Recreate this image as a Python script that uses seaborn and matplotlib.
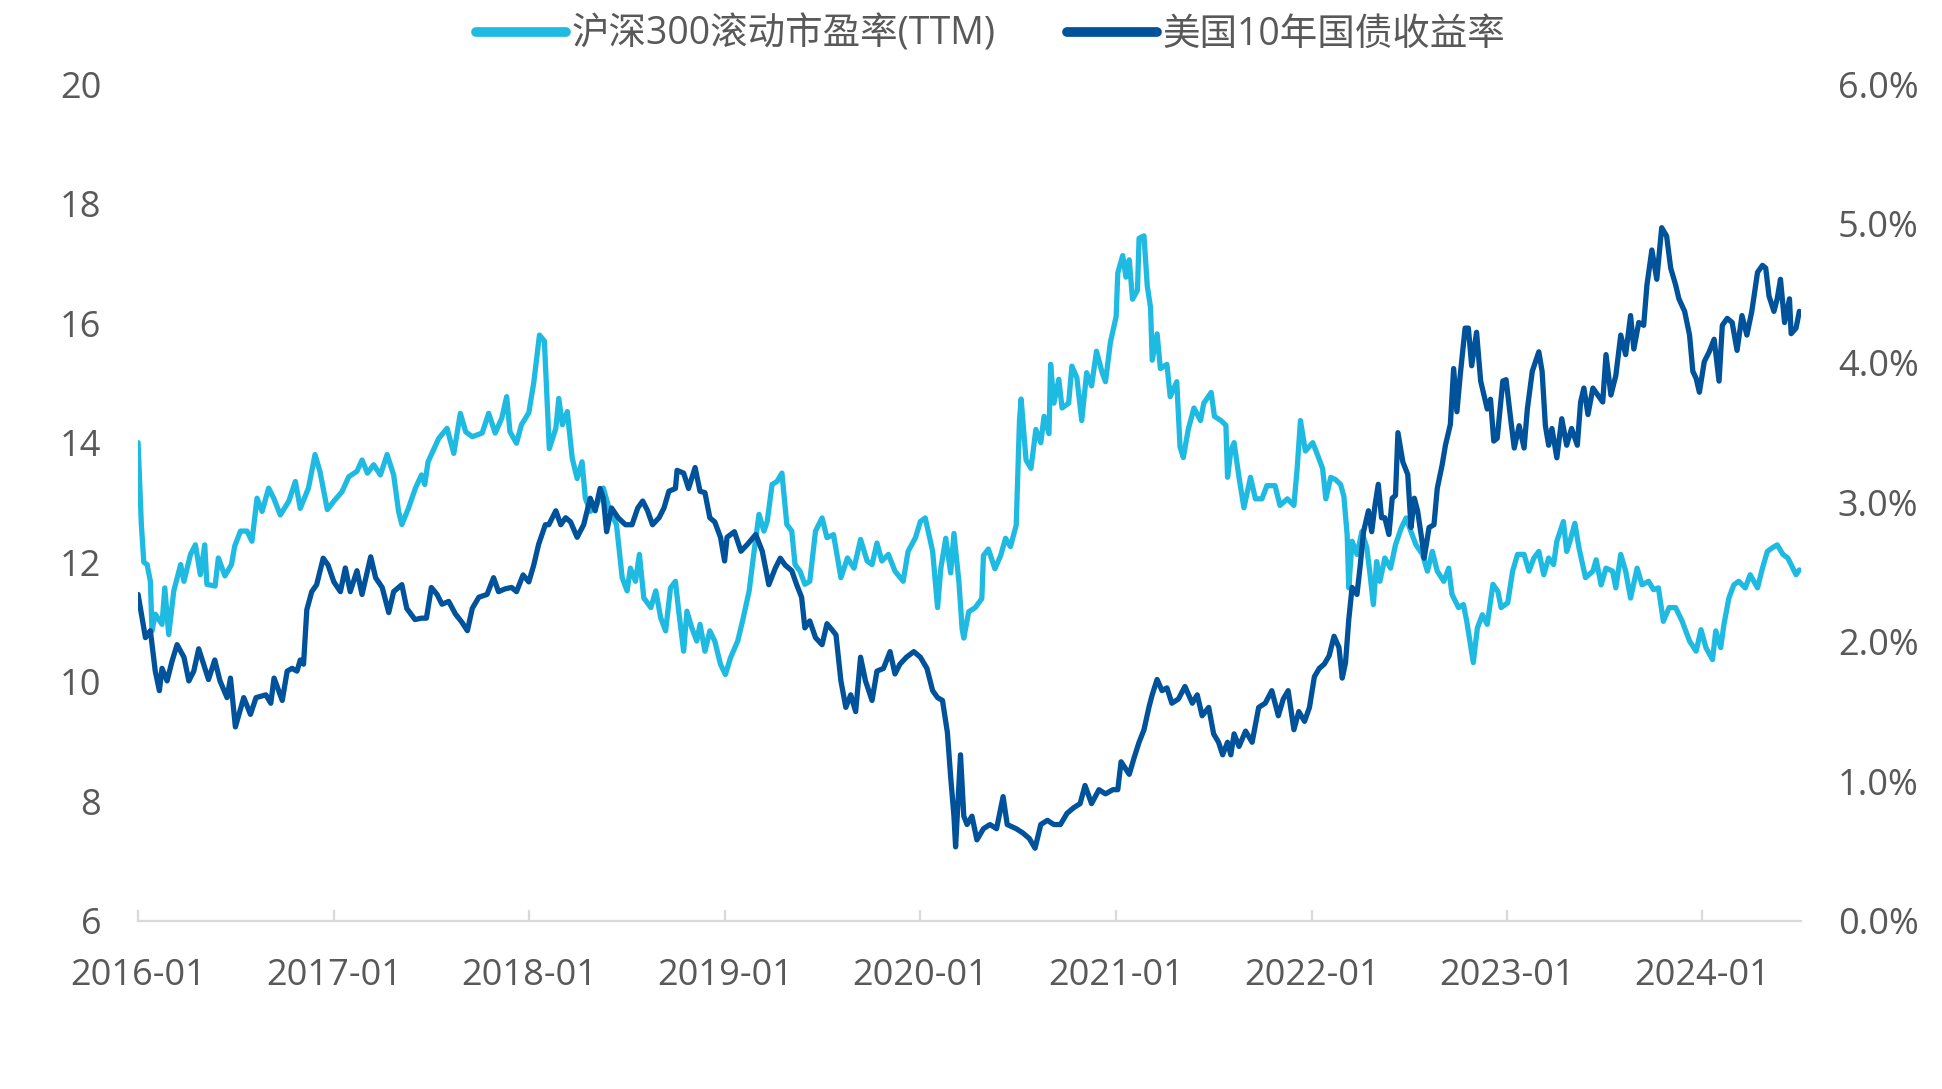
import matplotlib
matplotlib.use("Agg")
import matplotlib.pyplot as plt
import matplotlib.dates as mdates
from matplotlib.ticker import FuncFormatter
import numpy as np
import pandas as pd
import seaborn as sns

# data; x is the month offset from 2016-01 as read on the axis
START = pd.Timestamp("2016-01-01")
END = pd.Timestamp("2024-07-03")
MONTH_DAYS = 30.6  # the reference axis runs on trading days, one read month ~ 30.6 calendar days

PE_MONTHS = [
    0, 0.2, 0.35, 0.55, 0.75, 0.85, 1.05, 1.46, 1.63, 1.87, 2.18, 2.6, 2.8, 3.2, 3.5, 3.8,
    4.07, 4.2, 4.7, 4.9, 5.3, 5.7, 5.9, 6.25, 6.65, 6.95, 7.26, 7.57, 7.97, 8.28, 8.68, 9.2,
    9.6, 9.9, 10.4, 10.8, 11.1, 11.55, 11.95, 12.45, 12.86, 13.36, 13.67, 14.0, 14.38, 14.79,
    15.2, 15.6, 15.9, 16.1, 16.5, 16.93, 17.3, 17.5, 17.7, 18.35, 18.86, 19.27, 19.67, 20.0,
    20.4, 21.0, 21.4, 21.8, 22.2, 22.5, 22.7, 23.1, 23.4, 23.85, 24.15, 24.5, 24.8, 25.1,
    25.5, 25.68, 25.9, 26.2, 26.5, 26.8, 27.1, 27.3, 27.6, 28.0, 28.4, 28.8, 29.2, 29.55,
    29.85, 30.05, 30.36, 30.6, 30.87, 31.3, 31.6, 31.9, 32.2, 32.5, 32.8, 33.0, 33.3, 33.5,
    33.8, 34.1, 34.3, 34.6, 34.9, 35.2, 35.55, 35.85, 36.16, 36.6, 36.9, 37.3, 37.6, 37.9,
    38.2, 38.4, 38.7, 39.0, 39.3, 39.6, 39.9, 40.1, 40.4, 40.7, 41.0, 41.35, 41.75, 42.05,
    42.45, 42.9, 43.3, 43.7, 44.1, 44.5, 44.8, 45.1, 45.4, 45.8, 46.2, 46.7, 47.0, 47.45,
    47.75, 48.05, 48.5, 48.8, 49.0, 49.3, 49.6, 49.8, 50.1, 50.3, 50.4, 50.7, 51.1, 51.5,
    51.6, 51.9, 52.3, 52.65, 52.95, 53.25, 53.6, 53.7, 53.8, 53.9, 54.2, 54.5, 54.8, 55.1,
    55.3, 55.6, 55.7, 55.9, 56.2, 56.4, 56.8, 57.0, 57.3, 57.6, 57.9, 58.2, 58.5, 58.85,
    59.05, 59.35, 59.7, 59.8, 60.1, 60.3, 60.5, 60.7, 61.0, 61.1, 61.4, 61.6, 61.8, 61.9,
    62.2, 62.4, 62.8, 63.0, 63.4, 63.6, 63.8, 64.1, 64.45, 64.85, 65.05, 65.5, 65.7, 66.1,
    66.4, 66.5, 66.7, 66.9, 67.2, 67.5, 67.9, 68.2, 68.6, 68.9, 69.4, 69.7, 70.15, 70.55,
    70.75, 70.95, 71.25, 71.7, 72.0, 72.3, 72.5, 72.8, 73.1, 73.4, 73.6, 73.8, 73.9, 74.1,
    74.4, 74.7, 75.0, 75.2, 75.4, 75.6, 75.8, 76.1, 76.45, 76.75, 77.1, 77.4, 77.7, 78.0,
    78.4, 78.7, 79.0, 79.3, 79.7, 80.0, 80.2, 80.6, 80.9, 81.1, 81.5, 81.75, 82.05, 82.35,
    82.7, 83.0, 83.2, 83.6, 83.9, 84.2, 84.6, 84.9, 85.2, 85.5, 85.8, 86.1, 86.4, 86.6,
    87.0, 87.2, 87.4, 87.7, 87.95, 88.35, 88.8, 89.0, 89.3, 89.6, 90.0, 90.2, 90.5, 90.8,
    91.1, 91.5, 91.8, 92.2, 92.5, 92.8, 93.1, 93.45, 93.85, 94.25, 94.7, 95.1, 95.4, 95.7,
    96.1, 96.3, 96.6, 96.8, 97.1, 97.4, 97.7, 98.1, 98.4, 98.85, 99.15, 99.45, 99.75,
    100.05, 100.4, 100.7, 101.0, 101.2, 101.4,
]
PE_VALUES = [
    14.0, 12.63, 12.0, 11.96, 11.68, 10.85, 11.13, 10.96, 11.57, 10.79, 11.52, 11.96, 11.68,
    12.13, 12.29, 11.79, 12.29, 11.63, 11.6, 12.07, 11.77, 11.96, 12.27, 12.52, 12.52, 12.35,
    13.07, 12.85, 13.24, 13.07, 12.79, 13.02, 13.35, 12.9, 13.24, 13.8, 13.52, 12.88, 13.02,
    13.18, 13.43, 13.52, 13.71, 13.49, 13.63, 13.46, 13.8, 13.46, 12.85, 12.63, 12.9, 13.24,
    13.46, 13.3, 13.68, 14.07, 14.24, 13.82, 14.49, 14.18, 14.1, 14.16, 14.49, 14.16, 14.41,
    14.77, 14.18, 13.99, 14.3, 14.5, 15.0, 15.8, 15.7, 13.9, 14.24, 14.74, 14.3, 14.52,
    13.74, 13.4, 13.68, 13.07, 12.85, 12.96, 13.24, 12.85, 12.63, 11.74, 11.52, 11.9, 11.68,
    12.13, 11.4, 11.24, 11.52, 11.07, 10.85, 11.57, 11.68, 11.18, 10.51, 11.18, 10.9, 10.68,
    10.96, 10.51, 10.85, 10.68, 10.29, 10.12, 10.4, 10.68, 11.02, 11.52, 12.18, 12.8, 12.52,
    12.68, 13.3, 13.35, 13.49, 12.63, 12.52, 11.96, 11.85, 11.63, 11.68, 12.52, 12.74, 12.41,
    12.46, 11.74, 12.07, 11.9, 12.38, 12.02, 11.96, 12.32, 12.02, 12.13, 11.85, 11.68, 12.18,
    12.41, 12.68, 12.74, 12.18, 11.24, 11.9, 12.4, 11.82, 12.48, 11.68, 10.88, 10.73, 11.17,
    11.24, 11.39, 12.11, 12.22, 11.89, 12.11, 12.4, 12.26, 12.62, 13.5, 14.37, 14.73, 13.71,
    13.57, 14.22, 14.0, 14.44, 14.15, 15.31, 14.66, 15.06, 14.58, 14.66, 15.28, 15.09, 14.37,
    15.17, 14.95, 15.53, 15.17, 15.02, 15.68, 16.11, 16.84, 17.13, 16.77, 17.06, 16.4, 16.55,
    17.42, 17.46, 16.62, 16.26, 15.38, 15.82, 15.24, 15.31, 14.77, 15.02, 13.93, 13.75,
    14.22, 14.58, 14.37, 14.66, 14.84, 14.44, 14.37, 14.29, 13.42, 13.86, 14.0, 13.42, 12.91,
    13.42, 13.06, 13.06, 13.28, 13.28, 12.95, 13.06, 12.95, 13.57, 14.37, 13.86, 14.0, 13.79,
    13.57, 13.06, 13.42, 13.38, 13.3, 13.1, 12.46, 11.57, 12.35, 12.13, 12.51, 12.24, 11.79,
    11.29, 12.01, 11.68, 12.07, 11.9, 12.29, 12.57, 12.74, 12.51, 12.29, 12.13, 11.85, 12.18,
    11.85, 11.68, 11.9, 11.46, 11.24, 11.29, 11.01, 10.32, 10.9, 11.12, 10.96, 11.63, 11.51,
    11.24, 11.32, 11.85, 12.13, 12.13, 11.85, 12.07, 12.18, 11.79, 12.07, 11.96, 12.35, 12.68,
    12.18, 12.35, 12.65, 12.24, 11.74, 11.85, 12.04, 11.62, 11.9, 11.85, 11.57, 12.13, 11.85,
    11.4, 11.9, 11.62, 11.68, 11.54, 11.57, 11.01, 11.24, 11.24, 11.01, 10.68, 10.51, 10.87,
    10.57, 10.37, 10.85, 10.57, 10.96, 11.4, 11.62, 11.68, 11.57, 11.79, 11.57, 11.9, 12.18,
    12.24, 12.29, 12.13, 12.07, 11.9, 11.79, 11.87,
]

UST_MONTHS = [
    0, 0.25, 0.45, 0.75, 1.05, 1.3, 1.46, 1.77, 2.07, 2.38, 2.8, 3.1, 3.4, 3.7, 4.0, 4.3,
    4.68, 5.0, 5.43, 5.64, 5.94, 6.45, 6.86, 7.2, 7.8, 8.1, 8.3, 8.8, 9.1, 9.4, 9.7, 9.9,
    10.1, 10.3, 10.6, 10.9, 11.3, 11.6, 11.95, 12.35, 12.65, 12.95, 13.36, 13.67, 14.2, 14.5,
    14.9, 15.3, 15.6, 16.1, 16.4, 16.9, 17.3, 17.6, 17.9, 18.25, 18.55, 18.96, 19.37, 19.77,
    20.1, 20.4, 20.8, 21.3, 21.7, 22.0, 22.4, 22.8, 23.1, 23.5, 23.85, 24.15, 24.45, 24.86,
    25.07, 25.5, 25.8, 26.1, 26.4, 26.8, 27.2, 27.6, 27.9, 28.2, 28.4, 28.6, 28.9, 29.3,
    29.75, 30.15, 30.5, 30.8, 31.1, 31.4, 31.8, 32.1, 32.4, 32.8, 32.9, 33.3, 33.6, 34.0,
    34.3, 34.6, 34.9, 35.2, 35.55, 35.8, 35.95, 36.4, 36.8, 37.2, 37.7, 38.1, 38.5, 38.9,
    39.2, 39.5, 39.9, 40.2, 40.5, 40.7, 41.0, 41.35, 41.75, 42.05, 42.4, 42.6, 42.9, 43.2,
    43.5, 43.8, 44.1, 44.4, 44.8, 45.1, 45.5, 45.9, 46.2, 46.5, 46.9, 47.35, 47.75, 48.15,
    48.5, 48.8, 49.1, 49.4, 49.6, 49.8, 49.9, 50.1, 50.2, 50.4, 50.6, 50.9, 51.2, 51.6, 52.0,
    52.4, 52.8, 53.05, 53.6, 54.0, 54.4, 54.75, 55.1, 55.5, 55.9, 56.3, 56.7, 57.1, 57.5,
    57.8, 58.2, 58.65, 59.05, 59.5, 59.8, 60.0, 60.5, 60.8, 61.1, 61.4, 61.7, 61.9, 62.2,
    62.5, 62.8, 63.1, 63.5, 63.9, 64.35, 64.65, 64.95, 65.35, 65.65, 65.95, 66.2, 66.5, 66.7,
    66.9, 67.2, 67.6, 68.0, 68.4, 68.8, 69.2, 69.6, 69.9, 70.2, 70.55, 70.85, 71.2, 71.5,
    71.8, 72.1, 72.4, 72.7, 73.0, 73.3, 73.5, 73.7, 73.9, 74.1, 74.4, 74.6, 74.8, 75.1, 75.3,
    75.5, 75.7, 75.9, 76.1, 76.35, 76.55, 76.75, 76.9, 77.2, 77.5, 77.7, 77.9, 78.1, 78.4,
    78.5, 78.8, 79.1, 79.3, 79.6, 79.8, 80.1, 80.3, 80.5, 80.7, 81.0, 81.2, 81.4, 81.7,
    81.95, 82.15, 82.35, 82.55, 82.75, 82.96, 83.3, 83.5, 83.8, 84.0, 84.3, 84.6, 84.8,
    85.1, 85.5, 85.7, 85.9, 86.1, 86.3, 86.6, 86.9, 87.2, 87.5, 87.85, 88.05, 88.25, 88.5,
    88.8, 89.1, 89.4, 89.6, 89.9, 90.2, 90.5, 90.8, 91.1, 91.3, 91.6, 91.9, 92.1, 92.4,
    92.7, 93.0, 93.3, 93.55, 93.85, 94.05, 94.4, 94.7, 94.9, 95.1, 95.3, 95.6, 95.9, 96.2,
    96.5, 96.7, 97.0, 97.3, 97.6, 97.9, 98.2, 98.5, 98.85, 99.15, 99.35, 99.55, 99.85,
    100.05, 100.25, 100.5, 100.8, 100.9, 101.2, 101.4,
]
UST_VALUES = [
    2.34, 2.17, 2.03, 2.08, 1.79, 1.65, 1.81, 1.72, 1.86, 1.98, 1.89, 1.72, 1.79, 1.95, 1.84,
    1.73, 1.87, 1.72, 1.6, 1.74, 1.39, 1.6, 1.48, 1.6, 1.62, 1.56, 1.74, 1.58, 1.79, 1.81,
    1.79, 1.87, 1.84, 2.23, 2.36, 2.41, 2.6, 2.55, 2.43, 2.36, 2.53, 2.36, 2.51, 2.34, 2.61,
    2.46, 2.39, 2.21, 2.36, 2.41, 2.24, 2.16, 2.17, 2.17, 2.39, 2.34, 2.27, 2.29, 2.2, 2.14,
    2.08, 2.24, 2.32, 2.34, 2.46, 2.36, 2.38, 2.39, 2.36, 2.48, 2.43, 2.55, 2.7, 2.84, 2.84,
    2.94, 2.84, 2.89, 2.86, 2.75, 2.84, 3.03, 2.94, 3.1, 3.03, 2.79, 2.96, 2.89, 2.84, 2.84,
    2.96, 3.01, 2.94, 2.84, 2.89, 2.96, 3.08, 3.1, 3.23, 3.21, 3.1, 3.25, 3.08, 3.07, 2.89,
    2.86, 2.75, 2.58, 2.75, 2.79, 2.65, 2.7, 2.77, 2.65, 2.41, 2.53, 2.6, 2.55, 2.51, 2.41,
    2.32, 2.1, 2.15, 2.03, 1.98, 2.13, 2.08, 2.05, 1.72, 1.53, 1.62, 1.5, 1.89, 1.72, 1.58,
    1.79, 1.81, 1.93, 1.77, 1.84, 1.89, 1.93, 1.89, 1.81, 1.65, 1.6, 1.58, 1.35, 1.03, 0.75,
    0.53, 0.97, 1.19, 0.75, 0.69, 0.75, 0.58, 0.66, 0.69, 0.66, 0.89, 0.69, 0.66, 0.63, 0.59,
    0.52, 0.69, 0.72, 0.69, 0.69, 0.77, 0.81, 0.84, 0.97, 0.84, 0.94, 0.91, 0.94, 0.94, 1.14,
    1.05, 1.17, 1.28, 1.37, 1.53, 1.62, 1.73, 1.65, 1.67, 1.56, 1.59, 1.68, 1.56, 1.62, 1.47,
    1.53, 1.34, 1.28, 1.19, 1.28, 1.19, 1.34, 1.25, 1.36, 1.28, 1.53, 1.56, 1.65, 1.47, 1.59,
    1.65, 1.37, 1.5, 1.43, 1.53, 1.75, 1.81, 1.84, 1.9, 2.04, 1.96, 1.74, 1.85, 2.16, 2.39,
    2.34, 2.55, 2.79, 2.94, 2.79, 2.98, 3.13, 2.89, 2.89, 2.77, 3.03, 3.05, 3.5, 3.29, 3.2,
    2.82, 3.03, 2.94, 2.7, 2.6, 2.82, 2.84, 3.1, 3.27, 3.41, 3.56, 3.96, 3.65, 3.91, 4.25,
    4.25, 3.98, 4.22, 3.87, 3.77, 3.67, 3.74, 3.44, 3.46, 3.87, 3.88, 3.58, 3.39, 3.55, 3.39,
    3.67, 3.94, 4.08, 3.94, 3.55, 3.41, 3.53, 3.32, 3.6, 3.41, 3.53, 3.41, 3.72, 3.82, 3.63,
    3.82, 3.77, 3.72, 4.06, 3.77, 3.91, 4.2, 4.06, 4.34, 4.1, 4.29, 4.27, 4.56, 4.81, 4.6,
    4.97, 4.91, 4.68, 4.56, 4.46, 4.37, 4.2, 3.94, 3.89, 3.79, 4.01, 4.08, 4.17, 3.87, 4.27,
    4.32, 4.29, 4.09, 4.34, 4.2, 4.37, 4.65, 4.7, 4.68, 4.48, 4.37, 4.46, 4.6, 4.29, 4.46,
    4.21, 4.25, 4.37,
]

PE_LABEL = "沪深300滚动市盈率(TTM)"
UST_LABEL = "美国10年国债收益率"
PE_COLOR = "#1FBAE1"
UST_COLOR = "#00529A"
TEXT_COLOR = "#595959"
AXIS_COLOR = "#D9D9D9"


def to_dates(months):
    return START + pd.to_timedelta(np.asarray(months) * MONTH_DAYS, unit="D")


def main() -> None:
    sns.set_theme(style="white")
    plt.rcParams["font.family"] = ["Open Sans", "Noto Sans CJK SC", "DejaVu Sans"]

    pe = pd.DataFrame({"date": to_dates(PE_MONTHS), "value": PE_VALUES})
    ust = pd.DataFrame({"date": to_dates(UST_MONTHS), "value": UST_VALUES})

    fig = plt.figure(figsize=(19.42, 10.89), dpi=100)
    ax = fig.add_axes([0.0711, 0.1545, 0.8563, 0.7683])
    ax2 = ax.twinx()

    sns.lineplot(data=pe, x="date", y="value", ax=ax, color=PE_COLOR, lw=3.8, label=PE_LABEL, legend=False)
    sns.lineplot(data=ust, x="date", y="value", ax=ax2, color=UST_COLOR, lw=3.8, label=UST_LABEL, legend=False)

    ax.set_xlim(START, END)
    ax.set_ylim(6, 20)
    ax.set_yticks(range(6, 21, 2))
    ax2.set_ylim(0, 6)
    ax2.set_yticks(range(0, 7))
    ax2.yaxis.set_major_formatter(FuncFormatter(lambda v, _: f"{v:.1f}%"))

    ax.xaxis.set_major_locator(mdates.YearLocator())
    ax.xaxis.set_major_formatter(mdates.DateFormatter("%Y-%m"))

    for a in (ax, ax2):
        a.set_xlabel("")
        a.set_ylabel("")
        a.grid(False)
        for side in ("top", "left", "right"):
            a.spines[side].set_visible(False)
    ax2.spines["bottom"].set_visible(False)
    ax.spines["bottom"].set_color(AXIS_COLOR)
    ax.spines["bottom"].set_linewidth(1.6)

    ax.tick_params(axis="x", bottom=True, direction="in", length=8, width=1.6, color=AXIS_COLOR,
                   labelsize=26, labelcolor=TEXT_COLOR, pad=27)
    ax.tick_params(axis="y", left=False, length=0, labelsize=26, labelcolor=TEXT_COLOR, pad=26.5)
    ax2.tick_params(axis="y", right=False, length=0, labelsize=26, labelcolor=TEXT_COLOR, pad=26.5)

    handles = ax.get_lines()[:1] + ax2.get_lines()[:1]
    leg = fig.legend(handles, [PE_LABEL, UST_LABEL], loc="center", bbox_to_anchor=(0.51, 0.968),
                     ncol=2, frameon=False, fontsize=27, handlelength=2.4, handletextpad=0.15,
                     columnspacing=1.9, labelcolor=TEXT_COLOR)
    for line in leg.get_lines():
        line.set_linewidth(7)
        line.set_solid_capstyle("round")

    fig.savefig("out.png", dpi=100)
    plt.close(fig)


if __name__ == "__main__":
    main()
